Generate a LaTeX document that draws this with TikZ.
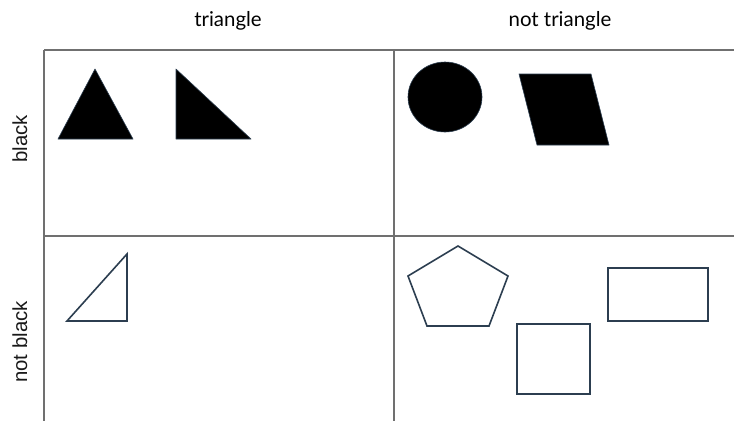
\documentclass[tikz,border=0pt]{standalone}
\usepackage{fontspec}
\setmainfont{Lato}
\newfontfamily\sidefont{Liberation Sans}
\usetikzlibrary{shapes.geometric}
\definecolor{slate}{RGB}{44,62,80}
\definecolor{gridgray}{RGB}{112,112,112}
\begin{document}
\begin{tikzpicture}[x=1bp,y=-1bp,
  gridline/.style={draw=gridgray,line width=1.6bp},
  solidshape/.style={fill=black,draw=slate,line width=0.6bp,line join=round},
  outlineshape/.style={draw=slate,line width=1.6bp,fill=none,line join=miter},
  toplabel/.style={font=\fontsize{20.5}{22}\selectfont,anchor=base,inner sep=0pt,text=black},
  sidelabel/.style={font=\sidefont\fontsize{20.4}{22}\selectfont,rotate=90,anchor=base,inner sep=0pt,text=black!90}]
\useasboundingbox (0,0) rectangle (734,421);
\fill[white] (0,0) rectangle (734,421);
% labels
\node[toplabel] (ltri) at (228,26) {triangle};
\node[toplabel] (lnottri) at (560,26) {not triangle};
\node[sidelabel] (lblack) at (27,139) {black};
\node[sidelabel] (lnotblack) at (27,342) {not black};
% grid
\draw[gridline] (44,50) -- (734,50);
\draw[gridline] (44,236) -- (734,236);
\draw[gridline] (44,50) -- (44,421);
\draw[gridline] (394,50) -- (394,421);
% black triangles
\draw[solidshape] (95,69) -- (133,139) -- (58,139) -- cycle;
\draw[solidshape] (176,69) -- (251,139) -- (176,139) -- cycle;
% black circle and parallelogram
\draw[solidshape] (445,97) ellipse [x radius=37, y radius=35];
\draw[solidshape] (519,74) -- (591,74) -- (609,145) -- (537,145) -- cycle;
% outlined triangle
\draw[outlineshape] (127,254) -- (127,321) -- (67,321) -- cycle;
% pentagon, square, rectangle
\draw[outlineshape] (458,246) -- (508,276) -- (489,326) -- (427,326) -- (408,276) -- cycle;
\draw[outlineshape] (517,324) rectangle (590,394);
\draw[outlineshape] (608,268) rectangle (708,321);
\end{tikzpicture}
\end{document}
